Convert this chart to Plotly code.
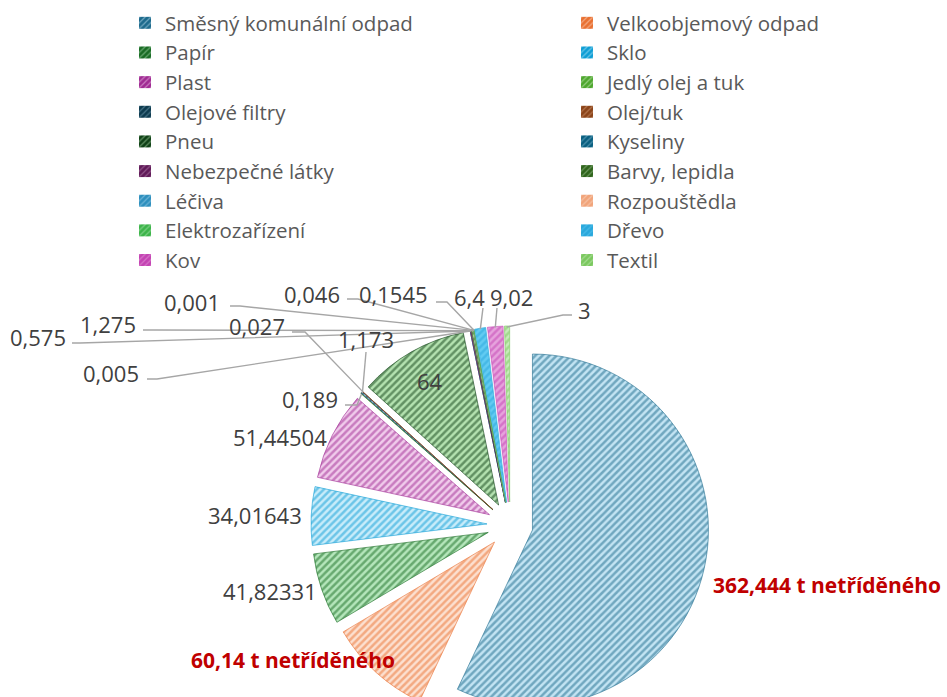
import math
import plotly.graph_objects as go

# ---------------- data ----------------
categories = ["Směsný komunální odpad", "Velkoobjemový odpad", "Papír", "Sklo", "Plast",
              "Jedlý olej a tuk", "Olejové filtry", "Olej/tuk", "Pneu", "Kyseliny",
              "Nebezpečné látky", "Barvy, lepidla", "Léčiva", "Rozpouštědla",
              "Elektrozařízení", "Dřevo", "Kov", "Textil"]
values = [362.444, 60.14, 41.82331, 34.01643, 51.44504, 0.189, 1.173, 0.027, 64,
          0.005, 0.575, 1.275, 0.001, 0.046, 0.1545, 6.4, 9.02, 3]
unsorted_suffix = " t netříděného"
unsorted_idx = [0, 1]

# ---------------- styles ----------------
fg_colors = ["#1D6A8C", "#E97132", "#196B24", "#0F9ED5", "#A02B93", "#4EA72E",
             "#0D3A4E", "#8B4419", "#0F4016", "#095F80", "#601A58", "#2F641C",
             "#2E8FBD", "#F1A47A", "#3CB449", "#2AA8DC", "#C444B3", "#7BC85F"]
bg_colors = ["#C3E4F3", "#FCE0D0", "#B5E6BB", "#C8ECFA", "#F0CBEB", "#D6F0CC",
             "#7FA9BD", "#D9A17F", "#B4E2B0", "#8FC3DA", "#BC8CB6", "#A5C99A",
             "#A9D8EF", "#FBDCCB", "#B9E8BE", "#62CBF2", "#E6A3DD", "#C8EBBB"]

W, H = 947, 724
CX, CY, R, PULL = 510, 525, 176, 23
FONT = "Open Sans"
LABEL_COLOR = "#404040"
LEGEND_COLOR = "#595959"
RED = "#C00000"
LEADER = "#A6A6A6"
LEGEND_COLS_X = [125, 567]   # left edge of each legend column (px)
LEGEND_TOP = 3               # px

# label placement in pixels: (x, y, xanchor, leader elbow points)
label_pos = [
    (712, 585, "left", []),
    (190, 660, "left", []),
    (318, 591, "right", []),
    (303, 515, "right", []),
    (328, 437, "right", []),
    (339, 399, "right", [(345, 405), (357, 405)]),
    (366, 339, "center", [(366, 352)]),
    (286, 326, "right", [(292, 332), (305, 332)]),
    (430, 381, "center", []),
    (140, 373, "right", [(147, 379), (157, 379)]),
    (67, 337, "right", [(72, 343), (80, 343)]),
    (137, 324, "right", [(143, 330), (153, 330)]),
    (221, 302, "right", [(230, 306), (240, 306)]),
    (341, 294, "right", [(347, 299), (358, 299)]),
    (429, 294, "right", [(436, 302), (447, 302)]),
    (469, 297, "center", [(483, 308)]),
    (511, 297, "center", [(497, 308)]),
    (577, 310, "left", [(572, 315), (563, 315)]),
]


def fmt(v):
    s = ("%d" % v) if float(v).is_integer() else repr(v)
    return s.replace(".", ",")


def px(x):
    return x / W


def py(y):
    return 1 - y / H


half = R + PULL
fig = go.Figure(go.Pie(
    labels=categories,
    values=values,
    sort=False,
    direction="clockwise",
    rotation=0,
    pull=PULL / R,
    textinfo="none",
    hoverinfo="label+value",
    showlegend=False,
    domain=dict(x=[(CX - half) / W, (CX + half) / W],
                y=[max(0, 1 - (CY + half) / H), 1 - (CY - half) / H]),
    marker=dict(
        colors=bg_colors,
        line=dict(color=fg_colors, width=0.6),
        pattern=dict(shape="/", fillmode="overlay", fgcolor=fg_colors,
                     size=5, solidity=0.5),
    ),
))

# legend entries (two columns, filled row by row like the original)
for i, (name, bg, fg) in enumerate(zip(categories, bg_colors, fg_colors)):
    fig.add_trace(go.Bar(
        x=[None], y=[None], name=name,
        marker=dict(color=fg, line=dict(width=0),
                    pattern=dict(shape="/", fillmode="overlay", fgcolor=bg,
                                 size=5, solidity=0.3)),
        legend="legend" if i % 2 == 0 else "legend2",
        showlegend=True, hoverinfo="skip",
    ))

# anchors on the slice edges, computed from the values
total = sum(values)
cum = 0.0
anchors = []
for v in values:
    mid = (cum + v / 2) / total * 2 * math.pi
    cum += v
    d = R + PULL - 1
    anchors.append((CX + d * math.sin(mid), CY - d * math.cos(mid)))

annotations = []
shapes = []
for i, (v, (lx, ly, xa, elbow)) in enumerate(zip(values, label_pos)):
    if i in unsorted_idx:
        txt = "<b>" + fmt(v) + unsorted_suffix + "</b>"
        font = dict(family=FONT, size=21, color=RED)
    else:
        txt = fmt(v)
        font = dict(family=FONT, size=22, color=LABEL_COLOR)
    annotations.append(dict(x=px(lx), y=py(ly), xref="paper", yref="paper",
                            text=txt, showarrow=False, xanchor=xa, yanchor="middle",
                            font=font, borderpad=0))
    if elbow:
        pts = list(elbow) + [anchors[i]]
        path = "M " + " L ".join("%.4f,%.4f" % (px(a), py(b)) for a, b in pts)
        shapes.append(dict(type="path", xref="paper", yref="paper", path=path,
                           line=dict(color=LEADER, width=1.4), layer="above"))

legend_style = dict(
    orientation="v", y=py(LEGEND_TOP), xanchor="left", yanchor="top",
    font=dict(family=FONT, size=20.5, color=LEGEND_COLOR),
    bgcolor="rgba(0,0,0,0)", traceorder="normal", tracegroupgap=0,
)

fig.update_layout(
    width=W, height=H,
    margin=dict(l=0, r=0, t=0, b=0),
    paper_bgcolor="white",
    plot_bgcolor="white",
    font=dict(family=FONT, color=LABEL_COLOR),
    showlegend=True,
    legend=dict(x=px(LEGEND_COLS_X[0]), **legend_style),
    legend2=dict(x=px(LEGEND_COLS_X[1]), **legend_style),
    xaxis=dict(visible=False),
    yaxis=dict(visible=False),
    annotations=annotations,
    shapes=shapes,
)

fig.write_html("out.html",
               config={"displayModeBar": False},
               post_script="document.body.style.margin='0';"
                           "document.body.style.overflow='hidden';"
                           "document.documentElement.style.overflow='hidden';")
